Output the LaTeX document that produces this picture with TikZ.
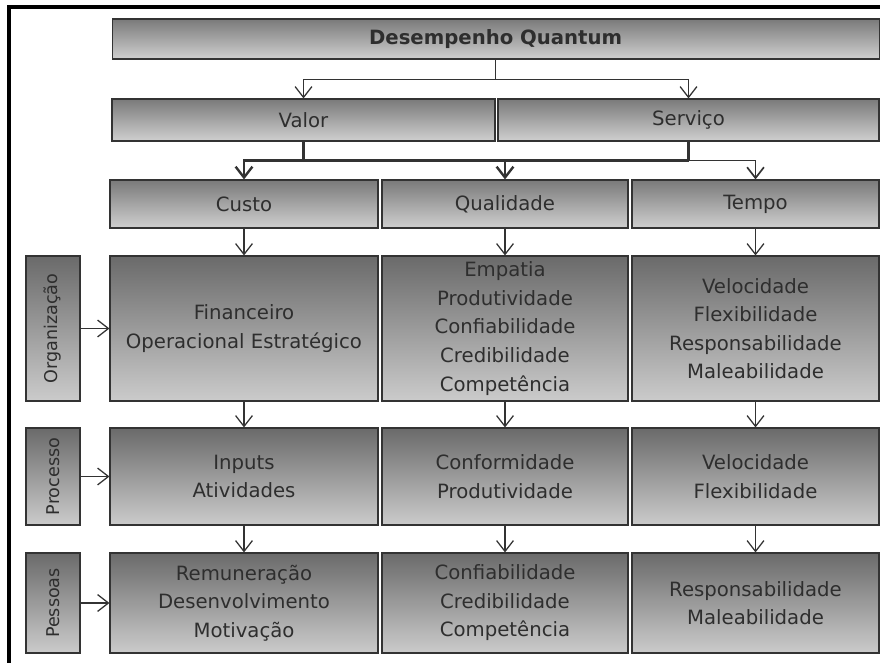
\documentclass[tikz,border=0pt]{standalone}
\usepackage{fontspec}
\setmainfont{DejaVu Sans}
\usetikzlibrary{arrows.meta,positioning,calc}
\definecolor{ink}{HTML}{2E2E2E}
\definecolor{edge}{HTML}{333333}
\definecolor{frame}{HTML}{000000}
\definecolor{headtop}{HTML}{7A7A7A}
\definecolor{headbottom}{HTML}{CFCFCF}
\definecolor{celltop}{HTML}{6A6A6A}
\definecolor{cellbottom}{HTML}{CBCBCB}
\tikzset{
  >={Straight Barb[length=2.7mm,width=4.2mm]},
  link/.style={draw=edge, line width=0.9pt},
  boldlink/.style={draw=edge, line width=1.9pt},
  flow/.style={->, draw=edge, line width=0.9pt},
  boldflow/.style={->, draw=edge, line width=1.7pt},
  header/.style={draw=edge, line width=0.8pt, top color=headtop, bottom color=headbottom,
                 inner sep=0pt, text=ink, font=\fontsize{14}{20}\selectfont},
  cell/.style={draw=edge, line width=0.8pt, top color=celltop, bottom color=cellbottom,
               inner sep=0pt, align=center, text=ink, font=\fontsize{14}{20.3}\selectfont},
  sidebox/.style={draw=edge, line width=0.8pt, top color=celltop, bottom color=cellbottom,
                  rotate=90, inner sep=0pt, minimum height=1.35cm, text=ink,
                  font=\fontsize{12.5}{15}\selectfont},
}

\begin{document}
\begin{tikzpicture}[x=1cm,y=1cm]

\useasboundingbox (0,0) rectangle (22,16.575);

% Frame -----------------------------------------------------------------------
\draw[frame, line width=0.1cm] (0.225,-0.3) -- (0.225,16.4) -- (22.3,16.4);

% Top levels ------------------------------------------------------------------
\node[header, minimum width=19.175cm, minimum height=1.0cm] (desemp) at (12.39,15.6)
  {\bfseries Desempenho Quantum};

\node[header, minimum width=9.575cm, minimum height=1.05cm] (valor) at (7.5875,13.575) {Valor};
\node[header, minimum width=9.525cm, minimum height=1.05cm] (servico) at (17.2125,13.575) {Serviço};

\draw[link] (desemp.south) -- ++(0,-0.5) coordinate (split);
\draw[flow] (split) -| (valor.north);
\draw[flow] (split) -| (servico.north);

% Dimensions ------------------------------------------------------------------
\node[header, minimum width=6.7cm, minimum height=1.2cm] (custo) at (6.1,11.475) {Custo};
\node[header, minimum width=6.15cm, minimum height=1.2cm] (qualid) at (12.625,11.475) {Qualidade};
\node[header, minimum width=6.175cm, minimum height=1.2cm] (tempo) at (18.8875,11.475) {Tempo};

\draw[boldlink] (valor.south) -- ++(0,-0.475) coordinate (vsplit);
\draw[boldlink] (servico.south) -- ++(0,-0.475) coordinate (ssplit);
\draw[boldlink] (vsplit) -- (ssplit);
\draw[boldflow] (vsplit) -| (custo.north);
\draw[boldflow] (vsplit) -| (qualid.north);
\draw[flow, line width=1.2pt] (ssplit) -| (tempo.north);

% Organização row -------------------------------------------------------------
\node[sidebox, minimum width=3.625cm] (org) at (1.325,8.3625) {Organização};

\node[cell, minimum width=6.7cm, minimum height=3.625cm] (orgcusto) at (6.1,8.3625)
  {Financeiro\\Operacional Estratégico};
\node[cell, minimum width=6.15cm, minimum height=3.625cm] (orgqual) at (12.625,8.3625)
  {Empatia\\Produtividade\\Confiabilidade\\Credibilidade\\Competência};
\node[cell, minimum width=6.175cm, minimum height=3.625cm] (orgtempo) at (18.8875,8.3625)
  {Velocidade\\Flexibilidade\\Responsabilidade\\Maleabilidade};

\draw[flow] (custo.south) -- (orgcusto.north);
\draw[flow] (qualid.south) -- (orgqual.north);
\draw[flow] (tempo.south) -- (orgtempo.north);
\draw[flow] (org.south) -- (orgcusto.west);

% Processo row ----------------------------------------------------------------
\node[sidebox, minimum width=2.425cm] (proc) at (1.325,4.6625) {Processo};

\node[cell, minimum width=6.7cm, minimum height=2.425cm] (proccusto) at (6.1,4.6625)
  {Inputs\\Atividades};
\node[cell, minimum width=6.15cm, minimum height=2.425cm] (procqual) at (12.625,4.6625)
  {Conformidade\\Produtividade};
\node[cell, minimum width=6.175cm, minimum height=2.425cm] (proctempo) at (18.8875,4.6625)
  {Velocidade\\Flexibilidade};

\draw[flow] (orgcusto.south) -- (proccusto.north);
\draw[flow] (orgqual.south) -- (procqual.north);
\draw[flow] (orgtempo.south) -- (proctempo.north);
\draw[flow] (proc.south) -- (proccusto.west);

% Pessoas row -----------------------------------------------------------------
\node[sidebox, minimum width=2.5cm] (pes) at (1.325,1.5) {Pessoas};

\node[cell, minimum width=6.7cm, minimum height=2.5cm] (pescusto) at (6.1,1.5)
  {Remuneração\\Desenvolvimento\\Motivação};
\node[cell, minimum width=6.15cm, minimum height=2.5cm] (pesqual) at (12.625,1.5)
  {Confiabilidade\\Credibilidade\\Competência};
\node[cell, minimum width=6.175cm, minimum height=2.5cm] (pestempo) at (18.8875,1.5)
  {Responsabilidade\\Maleabilidade};

\draw[flow] (proccusto.south) -- (pescusto.north);
\draw[flow] (procqual.south) -- (pesqual.north);
\draw[flow] (proctempo.south) -- (pestempo.north);
\draw[flow] (pes.south) -- (pescusto.west);

\end{tikzpicture}
\end{document}
